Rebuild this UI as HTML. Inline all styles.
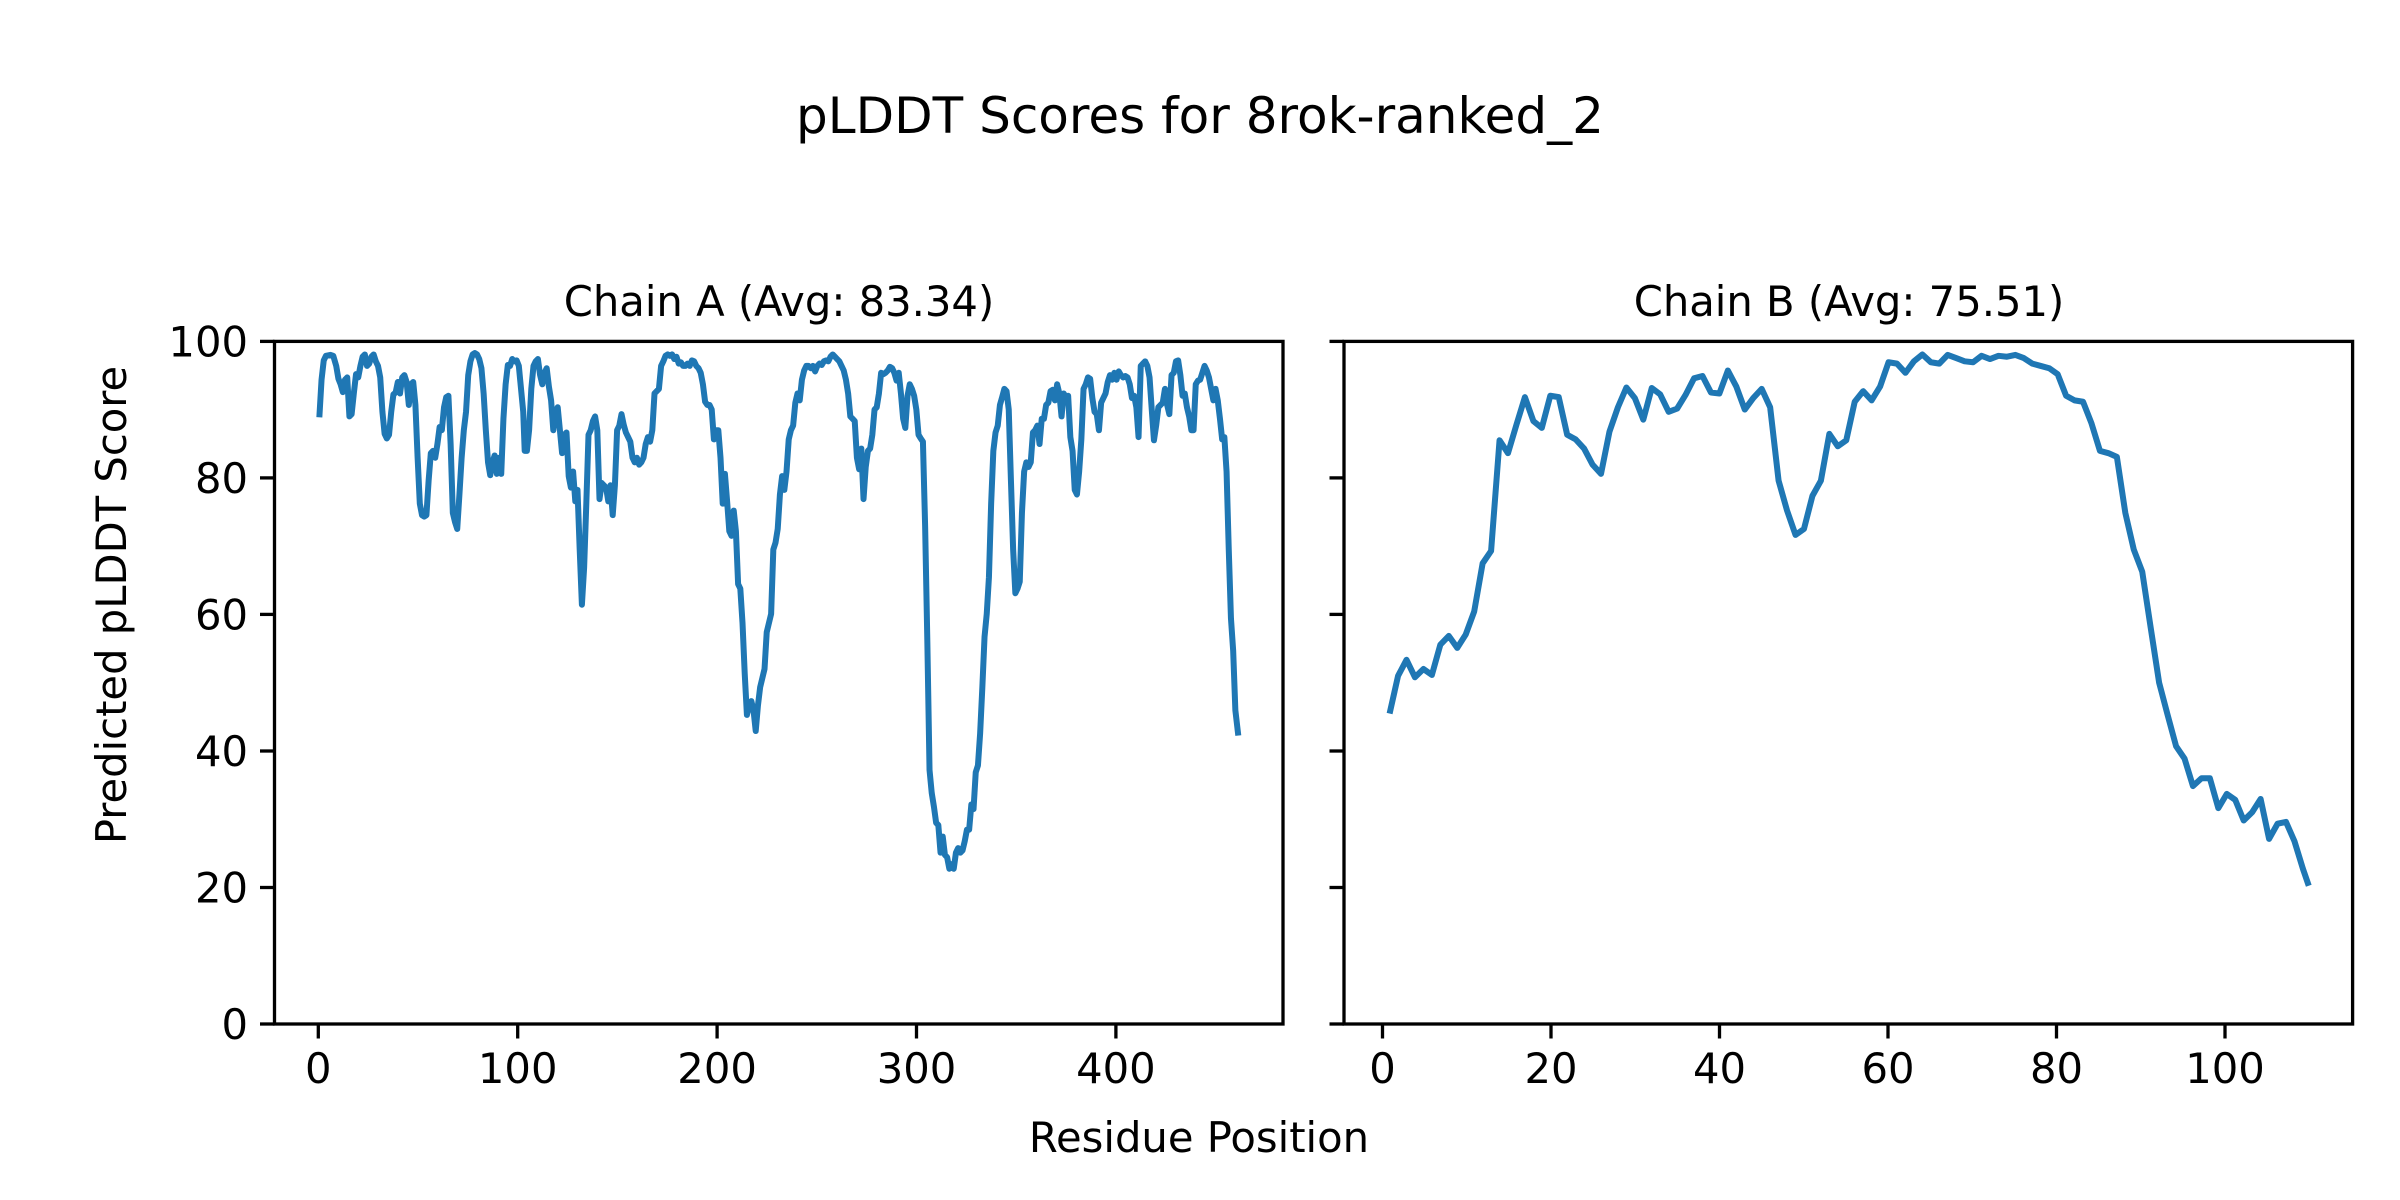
<!DOCTYPE html>
<html><head><meta charset="utf-8"><style>
html,body{margin:0;padding:0;background:#fff;}
svg{display:block;}
text{font-family:"DejaVu Sans","Liberation Sans",sans-serif;fill:#000;}
</style></head><body>
<svg width="2400" height="1200" viewBox="0 0 2400 1200" xmlns="http://www.w3.org/2000/svg">
<rect width="2400" height="1200" fill="#fff"/>
<text x="1200" y="133" font-size="50" text-anchor="middle">pLDDT Scores for 8rok-ranked_2</text>
<text x="779" y="316" font-size="41.7" text-anchor="middle">Chain A (Avg: 83.34)</text>
<text x="1849" y="316" font-size="41.7" text-anchor="middle">Chain B (Avg: 75.51)</text>
<text x="1199" y="1152" font-size="41.7" text-anchor="middle">Residue Position</text>
<text transform="translate(112,605) rotate(-90)" font-size="41.7" text-anchor="middle" dy="14">Predicted pLDDT Score</text>

<polyline fill="none" stroke="#1f77b4" stroke-width="6" stroke-linejoin="round" vector-effect="non-scaling-stroke" transform="translate(180,320) scale(0.7334,0.4592)" points="190,212 193,130 196,88 199,78 205,76 209,78 213,100 216,128 219,140 222,157 225,130 228,125 231,210 234,205 237,160 240,118 243,125 246,100 249,80 252,75 255,100 258,95 261,80 264,75 267,90 270,100 273,125 276,200 279,248 282,258 285,250 288,200 291,162 294,158 297,135 300,160 303,125 306,120 309,135 312,185 315,140 318,135 321,185 324,300 327,400 330,425 333,428 336,425 339,350 342,290 345,285 348,300 351,270 354,233 357,240 360,190 363,168 366,165 369,270 372,420 375,440 378,455 381,380 384,300 387,240 390,200 393,120 396,90 399,75 402,72 405,75 408,85 411,105 414,160 417,240 420,310 423,338 426,310 429,295 432,335 435,300 438,335 441,215 444,140 447,98 450,100 453,85 456,90 459,88 462,100 465,150 468,200 470,285 473,285 476,240 479,150 482,100 485,90 488,85 491,120 494,140 497,115 500,105 503,145 506,175 509,240 512,200 515,190 518,240 521,290 524,250 527,245 530,340 533,365 536,330 539,395 542,370 545,500 548,620 551,540 554,400 557,250 560,240 563,220 566,210 569,240 572,390 575,355 578,360 581,365 584,395 587,360 590,425 593,360 596,240 599,230 602,205 605,228 608,245 611,255 614,265 617,300 620,310 623,300 626,315 629,310 632,300 635,270 638,255 641,265 644,240 647,160 650,155 653,150 656,100 659,90 662,78 665,75 668,78 671,75 674,85 677,80 680,95 683,92 686,100 689,100 692,95 695,100 698,88 701,90 704,100 707,105 710,115 713,140 716,178 719,185 722,185 725,195 728,260 731,240 734,240 737,300 740,400 743,335 746,395 749,460 752,470 755,415 758,460 761,575 764,585 767,660 770,770 773,860 776,840 779,830 782,850 785,895 788,840 791,800 794,780 797,760 800,680 803,660 806,640 809,500 812,485 815,455 818,380 821,340 824,370 827,330 830,260 833,240 836,230 839,180 842,160 845,175 848,130 851,110 854,100 857,100 860,105 863,100 866,112 869,100 872,95 875,98 878,90 881,88 884,90 887,80 890,75 893,80 896,85 899,90 902,100 905,110 908,130 911,160 914,210 917,215 920,220 923,300 926,325 929,280 932,390 935,320 938,285 941,280 944,250 947,195 950,190 953,160 956,115 959,118 962,115 965,110 968,102 971,105 974,115 977,132 980,115 983,160 986,215 989,235 992,165 995,140 998,150 1001,165 1004,195 1007,250 1010,258 1013,265 1016,450 1019,700 1022,980 1025,1030 1028,1060 1031,1095 1034,1100 1037,1160 1040,1125 1043,1165 1046,1170 1049,1195 1052,1185 1055,1195 1058,1160 1061,1150 1064,1160 1067,1155 1070,1135 1073,1110 1076,1110 1079,1055 1082,1065 1085,985 1088,970 1091,900 1094,800 1097,690 1100,640 1103,560 1106,400 1109,285 1112,245 1115,230 1118,185 1121,168 1124,150 1127,155 1130,195 1133,350 1136,500 1139,595 1142,585 1145,570 1148,420 1151,330 1154,310 1157,320 1160,310 1163,245 1166,240 1169,230 1172,270 1175,215 1178,215 1181,185 1184,180 1187,155 1190,152 1193,175 1196,140 1199,160 1202,210 1205,160 1208,170 1211,165 1214,255 1217,285 1220,370 1223,380 1226,330 1229,260 1232,150 1235,140 1238,125 1241,128 1244,170 1247,200 1250,205 1253,240 1256,180 1259,170 1262,160 1265,135 1268,120 1271,130 1274,115 1277,130 1280,112 1283,120 1286,125 1289,122 1292,125 1295,140 1298,170 1301,165 1304,190 1307,255 1310,100 1313,95 1316,90 1319,100 1322,125 1325,195 1328,262 1331,230 1334,190 1337,185 1340,180 1343,150 1346,185 1349,205 1352,120 1355,115 1358,90 1361,88 1364,120 1367,165 1370,160 1373,190 1376,210 1379,240 1382,240 1385,140 1388,132 1391,130 1394,115 1397,100 1400,110 1403,125 1406,150 1409,175 1412,150 1415,175 1418,215 1421,260 1424,255 1427,330 1430,500 1433,650 1436,720 1439,850 1443,905"/>

<polyline fill="none" stroke="#1f77b4" stroke-width="6" stroke-linejoin="round" vector-effect="non-scaling-stroke" transform="translate(1320,320) scale(0.6505,0.4592)" points="107,857 120,775 133,740 146,778 159,760 172,773 185,707 198,688 211,714 224,685 237,635 250,530 263,503 276,262 289,290 302,228 315,168 328,220 341,235 354,165 367,168 380,250 393,260 406,280 419,315 432,335 445,243 458,190 471,147 484,170 497,217 510,148 523,162 536,200 549,193 562,163 575,127 588,122 601,158 614,160 627,110 640,145 653,195 666,170 679,150 692,190 705,350 718,415 731,468 744,455 757,383 770,350 783,248 796,275 809,262 822,178 835,155 848,175 861,145 874,92 887,95 900,115 913,90 926,75 939,92 952,95 965,76 978,83 991,90 1004,92 1017,78 1030,85 1043,78 1056,80 1069,76 1082,83 1095,95 1108,100 1121,105 1134,118 1147,165 1160,175 1173,178 1186,225 1199,285 1212,290 1225,298 1238,420 1251,500 1264,548 1277,670 1290,790 1303,860 1316,928 1329,955 1342,1015 1355,998 1368,998 1381,1063 1394,1032 1407,1045 1420,1090 1433,1072 1446,1043 1459,1130 1472,1097 1485,1093 1498,1135 1511,1195 1520,1232"/>

<rect x="274.5" y="341.4" width="1008.5" height="682.6" fill="none" stroke="#000" stroke-width="3.3"/>
<rect x="1344" y="341.4" width="1008.6" height="682.6" fill="none" stroke="#000" stroke-width="3.3"/>

<g stroke="#000" stroke-width="3.3">
<line x1="260" y1="1024" x2="274.5" y2="1024"/>
<line x1="260" y1="887.5" x2="274.5" y2="887.5"/>
<line x1="260" y1="751" x2="274.5" y2="751"/>
<line x1="260" y1="614.4" x2="274.5" y2="614.4"/>
<line x1="260" y1="477.9" x2="274.5" y2="477.9"/>
<line x1="260" y1="341.4" x2="274.5" y2="341.4"/>
<line x1="1329.5" y1="1024" x2="1344" y2="1024"/>
<line x1="1329.5" y1="887.5" x2="1344" y2="887.5"/>
<line x1="1329.5" y1="751" x2="1344" y2="751"/>
<line x1="1329.5" y1="614.4" x2="1344" y2="614.4"/>
<line x1="1329.5" y1="477.9" x2="1344" y2="477.9"/>
<line x1="1329.5" y1="341.4" x2="1344" y2="341.4"/>
<line x1="318.3" y1="1024" x2="318.3" y2="1038.5"/>
<line x1="517.7" y1="1024" x2="517.7" y2="1038.5"/>
<line x1="717.1" y1="1024" x2="717.1" y2="1038.5"/>
<line x1="916.5" y1="1024" x2="916.5" y2="1038.5"/>
<line x1="1115.9" y1="1024" x2="1115.9" y2="1038.5"/>
<line x1="1382.5" y1="1024" x2="1382.5" y2="1038.5"/>
<line x1="1551" y1="1024" x2="1551" y2="1038.5"/>
<line x1="1719.5" y1="1024" x2="1719.5" y2="1038.5"/>
<line x1="1888" y1="1024" x2="1888" y2="1038.5"/>
<line x1="2056.5" y1="1024" x2="2056.5" y2="1038.5"/>
<line x1="2225" y1="1024" x2="2225" y2="1038.5"/>
</g>

<g font-size="41.7" text-anchor="end">
<text x="248" y="1039">0</text>
<text x="248" y="902.5">20</text>
<text x="248" y="766">40</text>
<text x="248" y="629.4">60</text>
<text x="248" y="492.9">80</text>
<text x="248" y="356.4">100</text>
</g>
<g font-size="41.7" text-anchor="middle">
<text x="318.3" y="1083">0</text>
<text x="517.7" y="1083">100</text>
<text x="717.1" y="1083">200</text>
<text x="916.5" y="1083">300</text>
<text x="1115.9" y="1083">400</text>
<text x="1382.5" y="1083">0</text>
<text x="1551" y="1083">20</text>
<text x="1719.5" y="1083">40</text>
<text x="1888" y="1083">60</text>
<text x="2056.5" y="1083">80</text>
<text x="2225" y="1083">100</text>
</g>
</svg>
</body></html>
